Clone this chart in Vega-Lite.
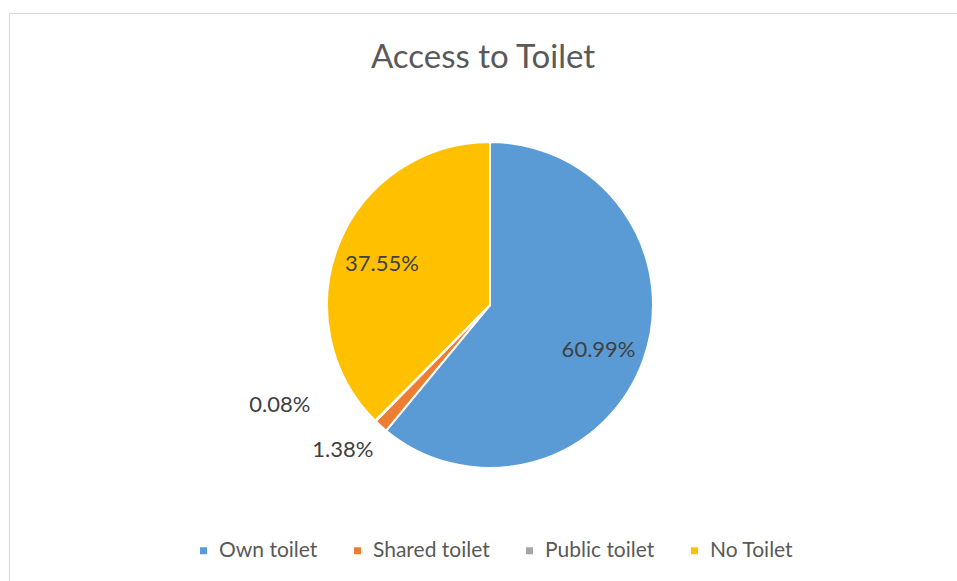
{
  "$schema": "https://vega.github.io/schema/vega-lite/v6.json",
  "autosize": "none",
  "padding": {"left": 9, "top": 13, "right": 0, "bottom": 0},
  "width": 948,
  "height": 568,
  "background": "#ffffff",
  "view": {"stroke": "#d9d9d9", "strokeWidth": 1},
  "title": {
    "text": "Access to Toilet",
    "font": "Lato",
    "fontSize": 33,
    "fontWeight": "normal",
    "color": "#595959",
    "anchor": "middle",
    "baseline": "alphabetic",
    "offset": -88
  },
  "data": {
    "values": [
      {"idx": 1, "cat": "Own toilet", "value": 0.6099},
      {"idx": 2, "cat": "Shared toilet", "value": 0.0138},
      {"idx": 3, "cat": "Public toilet", "value": 0.0008},
      {"idx": 4, "cat": "No Toilet", "value": 0.3755}
    ]
  },
  "encoding": {
    "theta": {"field": "value", "type": "quantitative", "stack": true},
    "order": {"field": "idx", "type": "quantitative"}
  },
  "layer": [
    {
      "mark": {"type": "arc", "outerRadius": 163, "stroke": "#ffffff", "strokeWidth": 2, "xOffset": 7, "yOffset": 8},
      "encoding": {
        "color": {
          "field": "cat",
          "type": "nominal",
          "sort": ["Own toilet", "Shared toilet", "Public toilet", "No Toilet"],
          "scale": {
            "domain": ["Own toilet", "Shared toilet", "Public toilet", "No Toilet"],
            "range": ["#5B9BD5", "#ED7D31", "#A5A5A5", "#FFC000"]
          },
          "legend": {
            "title": null,
            "orient": "none",
            "direction": "horizontal",
            "legendX": 184,
            "legendY": 527,
            "padding": 0,
            "symbolType": "square",
            "symbolSize": 49,
            "symbolStrokeWidth": 0,
            "labelFont": "Lato",
            "labelFontSize": 21,
            "labelColor": "#595959",
            "labelOffset": 5,
            "columnPadding": 29
          }
        }
      }
    },
    {
      "mark": {"type": "text", "radius": 117, "thetaOffset": 0.037, "font": "Lato", "fontSize": 22, "color": "#404040", "align": "center", "baseline": "middle", "xOffset": 7, "yOffset": 9},
      "encoding": {
        "detail": {"field": "cat", "type": "nominal"},
        "text": {
          "condition": {"test": "datum.cat === 'Own toilet'", "field": "value", "format": ".2%"},
          "value": ""
        }
      }
    },
    {
      "mark": {"type": "text", "radius": 116, "thetaOffset": -0.021, "font": "Lato", "fontSize": 22, "color": "#404040", "align": "center", "baseline": "middle", "xOffset": 7, "yOffset": 9},
      "encoding": {
        "detail": {"field": "cat", "type": "nominal"},
        "text": {
          "condition": {"test": "datum.cat === 'No Toilet'", "field": "value", "format": ".2%"},
          "value": ""
        }
      }
    },
    {
      "mark": {"type": "text", "radius": 206, "thetaOffset": 0.062, "font": "Lato", "fontSize": 22, "color": "#404040", "align": "center", "baseline": "middle", "xOffset": 7, "yOffset": 9},
      "encoding": {
        "detail": {"field": "cat", "type": "nominal"},
        "text": {
          "condition": {"test": "datum.cat === 'Shared toilet'", "field": "value", "format": ".2%"},
          "value": ""
        }
      }
    },
    {
      "mark": {"type": "text", "radius": 233, "thetaOffset": 0.345, "font": "Lato", "fontSize": 22, "color": "#404040", "align": "center", "baseline": "middle", "xOffset": 7, "yOffset": 7},
      "encoding": {
        "detail": {"field": "cat", "type": "nominal"},
        "text": {
          "condition": {"test": "datum.cat === 'Public toilet'", "field": "value", "format": ".2%"},
          "value": ""
        }
      }
    }
  ]
}
